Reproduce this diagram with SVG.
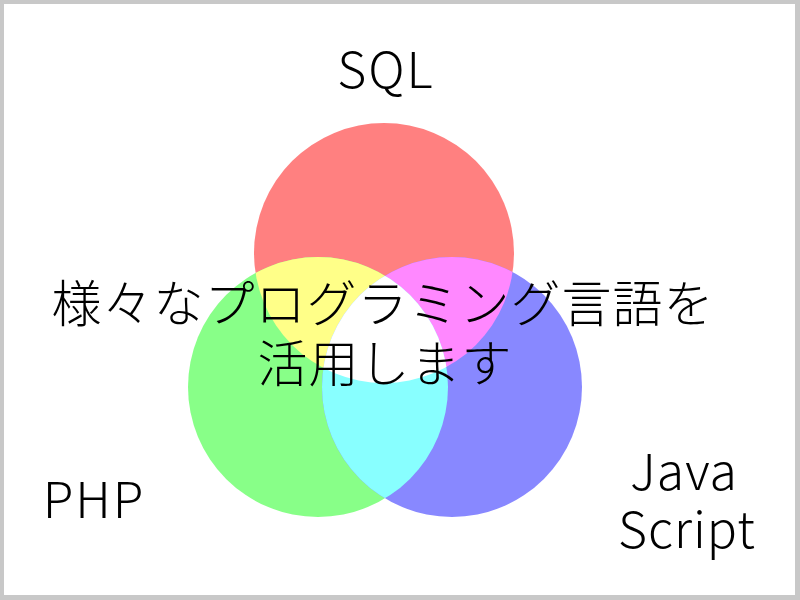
<svg xmlns="http://www.w3.org/2000/svg" width="800" height="600" viewBox="0 0 800 600">
<style>
.t{font-family:"Noto Sans CJK JP","Noto Sans",sans-serif;font-weight:300;fill:#000;text-anchor:middle}
.lbl{font-size:50px;letter-spacing:2px}
.js{font-size:50px;letter-spacing:1px}
.jp{font-size:50px;letter-spacing:1px}
</style>
<defs>
<clipPath id="cr"><circle cx="384" cy="253" r="130"/></clipPath>
<clipPath id="cg"><circle cx="318" cy="387" r="130"/></clipPath>
<clipPath id="cb"><circle cx="452" cy="387" r="130"/></clipPath>
</defs>
<rect x="0" y="0" width="800" height="600" fill="#c8c8c8"/>
<rect x="4" y="4" width="791" height="591" fill="#ffffff"/>
<g id="venn">
<circle id="sql-circle" cx="384" cy="253" r="130" fill="#ff8080"/>
<circle id="php-circle" cx="318" cy="387" r="130" fill="#88ff88"/>
<circle id="js-circle" cx="452" cy="387" r="130" fill="#8888ff"/>
<g clip-path="url(#cr)"><circle cx="318" cy="387" r="130" fill="#ffff88"/><circle cx="452" cy="387" r="130" fill="#ff88ff"/></g>
<g clip-path="url(#cg)"><circle cx="452" cy="387" r="130" fill="#88ffff"/></g>
<g clip-path="url(#cr)"><g clip-path="url(#cg)"><circle cx="452" cy="387" r="130" fill="#ffffff"/></g></g>
</g>
<g id="sql"><text class="t lbl" x="386" y="88">SQL</text></g>
<g id="php"><text class="t lbl" x="94" y="518">PHP</text></g>
<g id="javascript"><text class="t js" x="684" y="490">Java</text><text class="t js" x="687" y="548">Script</text></g>
<g id="title"><text class="t jp" x="383" y="322">様々なプログラミング言語を</text><text class="t jp" x="385" y="382">活用します</text></g>
</svg>
